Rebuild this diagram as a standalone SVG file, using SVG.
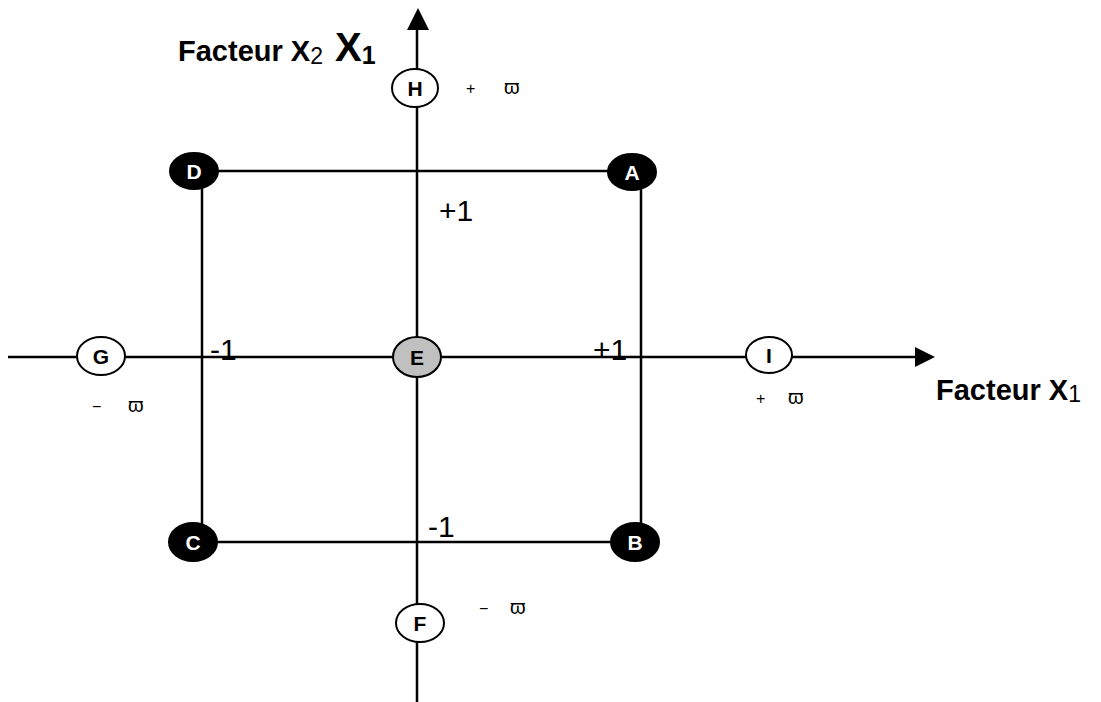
<svg xmlns="http://www.w3.org/2000/svg" width="1101" height="702" viewBox="0 0 1101 702">
<style>
.ln{stroke:#000;stroke-width:2.5;fill:none}
.dk{fill:#000;stroke:#000;stroke-width:2}
.op{fill:#fff;stroke:#000;stroke-width:2}
.gr{fill:#c0c0c0;stroke:#000;stroke-width:2}
.lw{font-family:"Liberation Sans",Arial,sans-serif;font-weight:bold;font-size:21px;fill:#fff;text-anchor:middle}
.lb{font-family:"Liberation Sans",Arial,sans-serif;font-weight:bold;font-size:21px;fill:#000;text-anchor:middle}
.num{font-family:"Liberation Sans",Arial,sans-serif;font-size:30px;fill:#000}
.sm{font-family:"Liberation Sans",Arial,sans-serif;font-size:20px;fill:#000}
.ttl{font-family:"Liberation Sans",Arial,sans-serif;font-weight:bold;font-size:29px;fill:#000}
</style>
<rect width="1101" height="702" fill="#fff"/>
<g id="connectors">
<line class="ln" x1="417" y1="702" x2="417" y2="30"/>
<path d="M407,30 L418,8 L429,30 Z" fill="#000"/>
<line class="ln" x1="8" y1="357" x2="915" y2="357"/>
<path d="M915,347 L935,357 L915,367 Z" fill="#000"/>
<line class="ln" x1="195" y1="171" x2="633" y2="171"/>
<line class="ln" x1="202" y1="171" x2="202" y2="542"/>
<line class="ln" x1="641" y1="173" x2="641" y2="542"/>
<line class="ln" x1="193" y1="542" x2="636" y2="542"/>
</g>
<g id="labels">
<text class="ttl" x="178" y="61">Facteur X<tspan font-weight="normal" font-size="23" dy="3">2</tspan><tspan font-size="40" dx="12" dy="-3">X</tspan><tspan font-size="25" dy="3">1</tspan></text>
<text class="ttl" x="936" y="400" font-size="30">Facteur X<tspan font-weight="normal" font-size="23" dy="2">1</tspan></text>
<text class="num" x="439" y="221">+1</text>
<text class="num" x="593" y="360">+1</text>
<text class="num" x="210" y="360">-1</text>
<text class="num" x="428" y="537">-1</text>
<text class="sm" y="94"><tspan x="466" font-size="16">+</tspan><tspan x="504">ϖ</tspan></text>
<text class="sm" y="412"><tspan x="92" font-size="16">−</tspan><tspan x="128">ϖ</tspan></text>
<text class="sm" y="404"><tspan x="756" font-size="16">+</tspan><tspan x="788">ϖ</tspan></text>
<text class="sm" y="614"><tspan x="479" font-size="16">−</tspan><tspan x="510">ϖ</tspan></text>
</g>
<g id="node-D"><ellipse class="dk" cx="194" cy="171" rx="24" ry="18"/><text class="lw" x="194" y="179">D</text></g>
<g id="node-A"><ellipse class="dk" cx="632" cy="172" rx="24" ry="18"/><text class="lw" x="632" y="180">A</text></g>
<g id="node-C"><ellipse class="dk" cx="193" cy="542" rx="24" ry="19"/><text class="lw" x="193" y="550">C</text></g>
<g id="node-B"><ellipse class="dk" cx="635" cy="542" rx="24" ry="19"/><text class="lw" x="635" y="550">B</text></g>
<g id="node-H"><ellipse class="op" cx="415" cy="88" rx="23" ry="19"/><text class="lb" x="415" y="96">H</text></g>
<g id="node-G"><ellipse class="op" cx="101" cy="356" rx="24" ry="19"/><text class="lb" x="101" y="364">G</text></g>
<g id="node-E"><ellipse class="gr" cx="417" cy="357" rx="24" ry="20"/><text class="lb" x="417" y="365">E</text></g>
<g id="node-I"><ellipse class="op" cx="769" cy="355" rx="23" ry="18"/><text class="lb" x="769" y="363">I</text></g>
<g id="node-F"><ellipse class="op" cx="420" cy="623" rx="24" ry="19"/><text class="lb" x="420" y="631">F</text></g>
</svg>
